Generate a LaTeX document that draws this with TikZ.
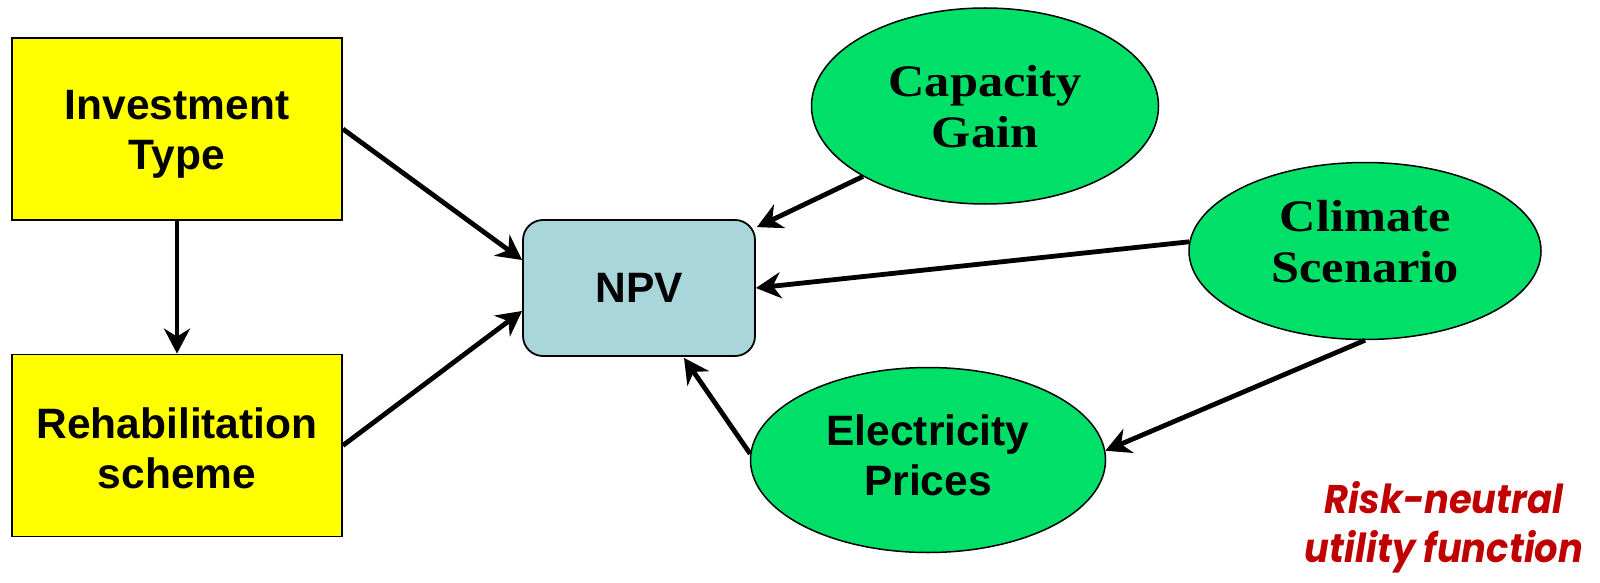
\documentclass[tikz,border=0pt]{standalone}
\usepackage{fontspec}
\usepackage{graphicx}
\setmainfont{Liberation Sans}
\newfontfamily\serifbold{Liberation Serif}
\newfontfamily\noteface{Poppins}
\usetikzlibrary{shapes.geometric,arrows.meta,calc}
\definecolor{boxyellow}{HTML}{FFFF00}
\definecolor{npvblue}{HTML}{A8D6DB}
\definecolor{nodegreen}{HTML}{00DF68}
\definecolor{notered}{HTML}{C00000}
% two centred lines, row distance = current \baselineskip
\newcommand{\twoline}[2]{\begin{tabular}{@{}c@{}}#1\\#2\end{tabular}}
\newcommand{\widetwoline}[2]{\scalebox{1.12}[1]{\twoline{#1}{#2}}}
\tikzset{
  decision/.style={draw=black, line width=1.8pt, fill=boxyellow, rectangle,
    minimum width=330pt, minimum height=182pt, inner sep=0pt},
  valuebox/.style={draw=black, line width=1.8pt, fill=npvblue, rectangle,
    rounded corners=20pt, minimum width=232pt, minimum height=136pt,
    inner sep=0pt, font=\fontsize{42.5}{50}\selectfont\bfseries},
  chance/.style={draw=black, line width=1.5pt, fill=nodegreen, ellipse,
    inner sep=0pt},
  sanstext/.style={inner sep=0pt, font=\fontsize{42.5}{50}\selectfont\bfseries},
  seriftext/.style={inner sep=0pt, font=\serifbold\fontsize{45}{50.5}\selectfont\bfseries},
  link/.style={line width=4.8pt, draw=black,
    -{Stealth[length=25pt,width=26pt,inset=8pt]}},
}
\begin{document}
\begin{tikzpicture}[x=1pt,y=-1pt]
\useasboundingbox (0,0) rectangle (1600,583);

% decision nodes
\node[decision, label={[sanstext, yshift=-6pt]center:{\twoline{Investment}{Type}}}]
  (inv) at (177,129) {};
\node[decision, label={[sanstext, yshift=-8pt]center:{\twoline{Rehabilitation}{scheme}}}]
  (reh) at (177,445.5) {};

% value node
\node[valuebox] (npv) at (639,288) {NPV};

% chance nodes
\node[chance, minimum width=347pt, minimum height=196pt,
  label={[seriftext, yshift=-6pt]center:{\widetwoline{Capacity}{Gain}}}]
  (cap) at (985,106) {};
\node[chance, minimum width=352pt, minimum height=177pt,
  label={[seriftext, yshift=4pt]center:{\widetwoline{Climate}{Scenario}}}]
  (cli) at (1365,251) {};
\node[chance, minimum width=355pt, minimum height=185pt,
  label={[sanstext, yshift=-0.5pt]center:{\twoline{Electricity}{Prices}}}]
  (ele) at (928,460) {};

% influences
\draw[link] (inv.east) -- ($(npv.west)+(0,-28)$);
\draw[link] (inv.south) -- (reh.north);
\draw[link] (reh.east) -- ($(npv.west)+(0,23)$);
\draw[link] (cap.210) -- ($(npv.north east)+(1,8)$);
\draw[link] (cli.177) -- (npv.east);
\draw[link] (cli.south) -- (ele.3);
\draw[link] (ele.178) -- ($(npv.south)+(45,1)$);

% utility note
\node[text=notered, inner sep=0pt,
  font=\noteface\fontsize{40}{49}\selectfont\bfseries\itshape] (note) at (1444,528)
  {\scalebox{0.92}[1]{\twoline{Risk-neutral}{utility function}}};
\end{tikzpicture}
\end{document}
